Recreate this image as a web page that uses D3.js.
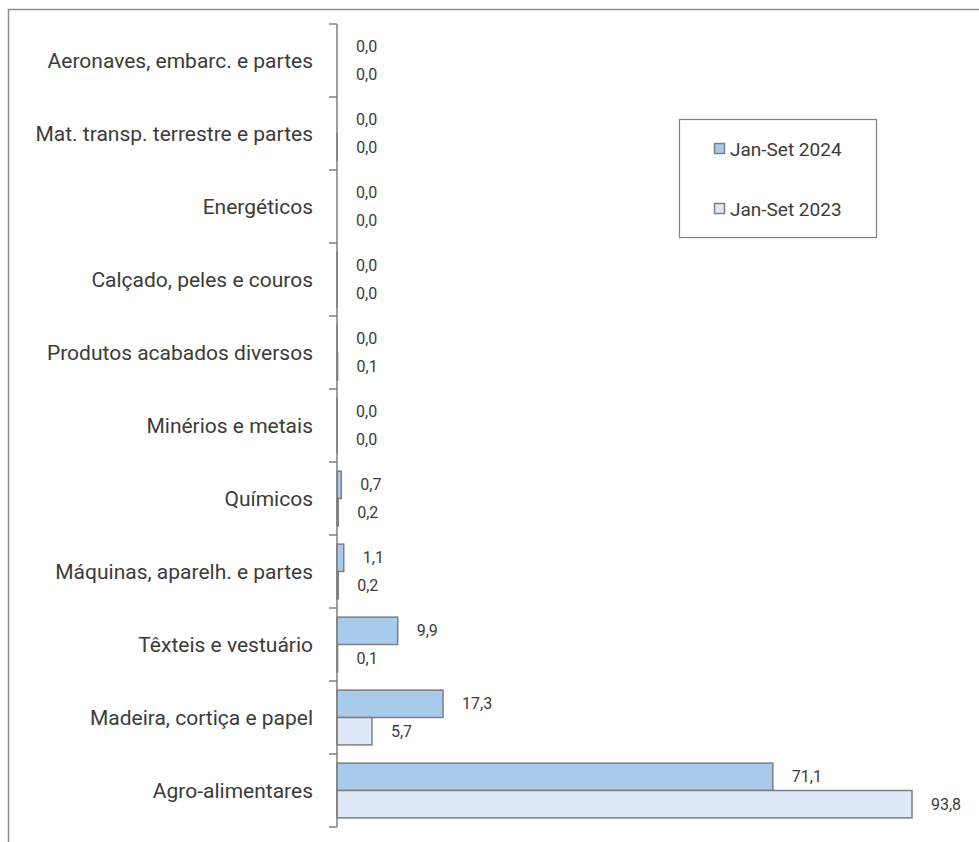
<!DOCTYPE html>
<html>
<head>
<meta charset="utf-8">
<script src="https://cdn.jsdelivr.net/npm/d3@7"></script>
<style>
  html, body { margin: 0; padding: 0; background: #fff; }
  svg { display: block; }
</style>
</head>
<body>
<svg id="chart" width="979" height="842"></svg>
<script>
const categories = [
  "Aeronaves, embarc. e partes",
  "Mat. transp. terrestre e partes",
  "Energéticos",
  "Calçado, peles e couros",
  "Produtos acabados diversos",
  "Minérios e metais",
  "Químicos",
  "Máquinas, aparelh. e partes",
  "Têxteis e vestuário",
  "Madeira, cortiça e papel",
  "Agro-alimentares"
];
const seriesNames = ["Jan-Set 2024", "Jan-Set 2023"];
const values2024 = [0.0, 0.0, 0.0, 0.02, 0.03, 0.02, 0.7, 1.1, 9.9, 17.3, 71.1];
const values2023 = [0.0, 0.03, 0.0, 0.02, 0.1, 0.02, 0.2, 0.2, 0.1, 5.7, 93.8];
const seriesValues = [values2024, values2023];
const colors = ["#a9cbeb", "#dde9f6"];

const svg = d3.select("#chart");
const strokeCol = "#7f7f7f";
const textCol = "#3b3b3b";
const fontCat = "Roboto, 'Noto Sans', sans-serif";

// outer frame
svg.append("rect")
  .attr("x", 8.5).attr("y", 9.5)
  .attr("width", 1000).attr("height", 1000)
  .attr("fill", "none").attr("stroke", "#8c8c8c").attr("stroke-width", 1.5);

const x = d3.scaleLinear().domain([0, 100]).range([337, 950]);
const y = d3.scaleBand().domain(categories).range([24, 827]).paddingInner(0.25).paddingOuter(0.125);
const ySub = d3.scaleBand().domain(seriesNames).range([0, y.bandwidth()]);

const fmt = v => d3.format(".1f")(v).replace(".", ",");

// bars
seriesNames.forEach((s, si) => {
  const g = svg.append("g");
  g.selectAll("rect").data(categories).enter().append("rect")
    .attr("x", x(0))
    .attr("y", d => y(d) + ySub(s))
    .attr("width", (d, i) => x(seriesValues[si][i]) - x(0))
    .attr("height", ySub.bandwidth())
    .attr("fill", colors[si])
    .attr("stroke", strokeCol).attr("stroke-width", 1.5);
  g.selectAll("text").data(categories).enter().append("text")
    .attr("x", (d, i) => x(seriesValues[si][i]) + 19)
    .attr("y", d => y(d) + ySub(s) + ySub.bandwidth() / 2)
    .attr("dy", "0.35em")
    .attr("font-family", fontCat).attr("font-size", 16)
    .attr("fill", textCol)
    .text((d, i) => fmt(seriesValues[si][i]));
});

// axis line and ticks at band boundaries
const axisG = svg.append("g");
axisG.append("line")
  .attr("x1", x(0)).attr("x2", x(0))
  .attr("y1", y.range()[0]).attr("y2", y.range()[1])
  .attr("stroke", strokeCol).attr("stroke-width", 1.5);
const boundaries = d3.range(categories.length + 1).map(i => y.range()[0] + i * y.step());
axisG.selectAll("line.tick").data(boundaries).enter().append("line")
  .attr("class", "tick")
  .attr("x1", x(0) - 8).attr("x2", x(0))
  .attr("y1", d => d).attr("y2", d => d)
  .attr("stroke", strokeCol).attr("stroke-width", 1.5);
axisG.selectAll("text").data(categories).enter().append("text")
  .attr("x", 313)
  .attr("y", d => y(d) + y.bandwidth() / 2)
  .attr("dy", "0.35em")
  .attr("text-anchor", "end")
  .attr("font-family", fontCat).attr("font-size", 21)
  .attr("fill", textCol)
  .text(d => d);

// legend
const lg = svg.append("g");
lg.append("rect")
  .attr("x", 679.5).attr("y", 119.5).attr("width", 197).attr("height", 118)
  .attr("fill", "#fff").attr("stroke", "#7f7f7f").attr("stroke-width", 1.2);
const legY = d3.scalePoint().domain(seriesNames).range([149, 209]);
seriesNames.forEach((s, si) => {
  lg.append("rect")
    .attr("x", 714.5).attr("y", legY(s) - 5.5).attr("width", 10).attr("height", 10)
    .attr("fill", colors[si]).attr("stroke", strokeCol).attr("stroke-width", 1.5);
  lg.append("text")
    .attr("x", 730).attr("y", legY(s)).attr("dy", "0.35em")
    .attr("font-family", fontCat).attr("font-size", 19)
    .attr("fill", textCol)
    .text(s);
});
</script>
</body>
</html>
